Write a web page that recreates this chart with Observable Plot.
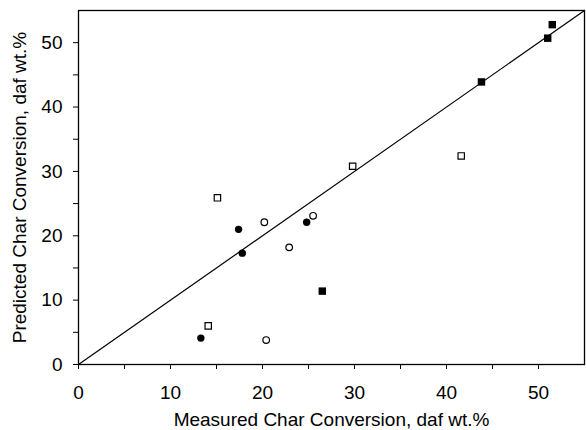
<!DOCTYPE html>
<html><head><meta charset="utf-8">
<script src="https://cdn.jsdelivr.net/npm/d3@7"></script>
<script src="https://cdn.jsdelivr.net/npm/@observablehq/plot@0.6"></script>
<style>body{margin:0;background:#fff;} svg{font-family:"Liberation Sans",Arial,sans-serif;}</style>
</head><body><div id="chart"></div>
<script>
const filledSquareX = [51.5, 51.0, 43.8, 26.5];
const filledSquareY = [52.8, 50.7, 43.9, 11.4];
const openSquareX = [15.1, 29.8, 41.6, 14.1];
const openSquareY = [25.9, 30.8, 32.4, 6.0];
const filledCircleX = [17.4, 17.8, 13.3, 24.8];
const filledCircleY = [21.0, 17.3, 4.1, 22.1];
const openCircleX = [20.2, 22.9, 25.5, 20.4];
const openCircleY = [22.1, 18.2, 23.1, 3.8];
const majorTicks = [0, 10, 20, 30, 40, 50];
const minorTicks = [5, 15, 25, 35, 45];
const parityLine = [[0, 0], [55, 55]];

const pts = (xs, ys) => xs.map((x, i) => ({x, y: ys[i]}));

const chart = Plot.plot({
  width: 586, height: 430,
  marginLeft: 78, marginRight: 2, marginTop: 10, marginBottom: 66,
  style: {fontSize: "19px", fontFamily: "Liberation Sans, Arial, sans-serif", color: "#000", background: "#fff"},
  x: {domain: [0, 55]},
  y: {domain: [0, 55]},
  marks: [
    Plot.frame({stroke: "#000", strokeWidth: 1.3}),
    Plot.line(parityLine, {x: d => d[0], y: d => d[1], stroke: "#000", strokeWidth: 1.2}),
    Plot.axisX({ticks: majorTicks, tickSize: 5, tickPadding: 16, fontSize: 19, label: "Measured Char Conversion, daf wt.%", labelAnchor: "center", labelOffset: 61, labelArrow: "none"}),
    Plot.axisX({ticks: minorTicks, tickSize: 5, tickFormat: () => "", label: null}),
    Plot.axisY({ticks: majorTicks, tickSize: 5, tickPadding: 11, fontSize: 19, label: "Predicted Char Conversion, daf wt.%", labelAnchor: "center", labelOffset: 66, labelArrow: "none"}),
    Plot.axisY({ticks: minorTicks, tickSize: 5, tickFormat: () => "", label: null}),
    Plot.dot(pts(filledSquareX, filledSquareY), {x: "x", y: "y", symbol: "square", r: 4.2, fill: "#000", stroke: "none"}),
    Plot.dot(pts(openSquareX, openSquareY), {x: "x", y: "y", symbol: "square", r: 3.6, fill: "#fff", stroke: "#000", strokeWidth: 1.2}),
    Plot.dot(pts(filledCircleX, filledCircleY), {x: "x", y: "y", symbol: "circle", r: 3.7, fill: "#000", stroke: "none"}),
    Plot.dot(pts(openCircleX, openCircleY), {x: "x", y: "y", symbol: "circle", r: 3.3, fill: "#fff", stroke: "#000", strokeWidth: 1.2})
  ]
});
document.getElementById("chart").appendChild(chart);
</script></body></html>
